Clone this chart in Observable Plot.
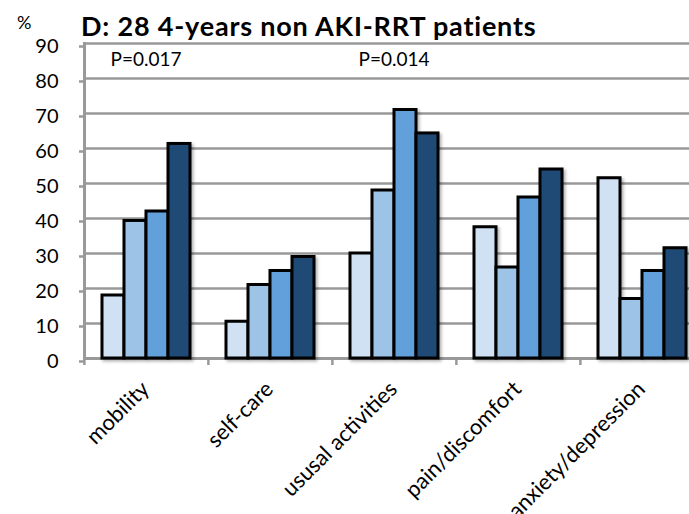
<!DOCTYPE html>
<html>
<head>
<meta charset="utf-8">
<script src="https://cdn.jsdelivr.net/npm/d3@7"></script>
<script src="https://cdn.jsdelivr.net/npm/@observablehq/plot@0.6"></script>
<style>
  html, body { margin: 0; padding: 0; background: #fff; overflow: hidden; }
  #wrap { position: relative; width: 689px; height: 514px; overflow: hidden; background: #fff; }
  #title { position: absolute; left: 81px; top: 12px; font-family: Lato, sans-serif; font-weight: bold;
           font-size: 27px; line-height: 1; letter-spacing: 0.8px; white-space: nowrap; color: #000; }
  #unit { position: absolute; left: 17px; top: 13px; font-family: Lato, sans-serif; font-size: 18px;
          line-height: 1; color: #000; }
  #chart { position: absolute; left: 0; top: 0; width: 704px; }
  #chart svg { max-width: none !important; }
</style>
</head>
<body>
<div id="wrap">
  <div id="chart"></div>
  <div id="unit">%</div>
  <div id="title">D: 28 4-years non AKI-RRT patients</div>
</div>
<script>
// ---- data ----
const categories = ["mobility", "self-care", "ususal activities", "pain/discomfort", "anxiety/depression"];
const series = ["Group 1", "Group 2", "Group 3", "Group 4"];
const group1 = [18, 10.5, 30, 37.5, 51.5];
const group2 = [39.3, 21, 48, 26, 17];
const group3 = [42, 25, 71, 46, 25];
const group4 = [61.3, 29, 64.3, 54, 31.5];
const colors = ["#d0e1f3", "#9dc3e6", "#62a0dc", "#1f4a75"];
const yTicks = [0, 10, 20, 30, 40, 50, 60, 70, 80, 90];
const pCategories = ["mobility", "ususal activities"];
const pLabels = ["P=0.017", "P=0.014"];

// ---- table built from arrays ----
const groups = [group1, group2, group3, group4];
const data = [];
categories.forEach((c, i) => series.forEach((s, j) => data.push({category: c, series: s, value: groups[j][i]})));
const pData = pCategories.map((c, i) => ({category: c, label: pLabels[i]}));

const W = 704, H = 514, ML = 83, MR = 0, MT = 43, MB = 156;
const step = (W - ML - MR) / categories.length;

const chart = Plot.plot({
  width: W, height: H,
  marginLeft: ML, marginRight: MR, marginTop: MT, marginBottom: MB,
  style: {fontFamily: "Lato, sans-serif", fontSize: "20px", color: "#000", background: "transparent",
          overflow: "hidden", maxWidth: "none"},
  fx: {domain: categories, padding: 0, label: null},
  x: {domain: series, paddingInner: 0, paddingOuter: 0.7, axis: null},
  y: {domain: [0, 90], axis: null},
  color: {domain: series, range: colors},
  marks: [
    Plot.gridY(yTicks, {stroke: "#999", strokeOpacity: 1, strokeWidth: 2.5}),
    Plot.axisY(yTicks, {anchor: "left", tickSize: 5, tickPadding: 21, stroke: "#999", strokeWidth: 2.5,
                        fill: "#000", fontSize: 20, dy: 3, label: null}),
    Plot.ruleY([0], {stroke: "#999", strokeWidth: 3}),
    Plot.frame({anchor: "left", facetAnchor: "left", stroke: "#999", strokeWidth: 3}),
    Plot.axisFx({anchor: "bottom", tickSize: 7, dx: -step / 2, tickFormat: () => "", label: null,
                 stroke: "#999", strokeWidth: 2.5}),
    Plot.barY(data, {fx: "category", x: "series", y: "value", fill: "series", stroke: "#000",
                     strokeWidth: 3, imageFilter: "drop-shadow(2px 2px 1.5px rgba(0,0,0,0.3))"}),
    Plot.text(pData, {fx: "category", x: () => series[0], text: "label", frameAnchor: "top",
                      textAnchor: "start", lineAnchor: "top", dx: -3, dy: 9, fontSize: 19}),
    Plot.text(categories, {fx: d => d, text: d => d, frameAnchor: "bottom", rotate: -45,
                           textAnchor: "end", lineAnchor: "middle", dx: -1, dy: 27, fontSize: 22})
  ]
});
document.getElementById("chart").appendChild(chart);
</script>
</body>
</html>
